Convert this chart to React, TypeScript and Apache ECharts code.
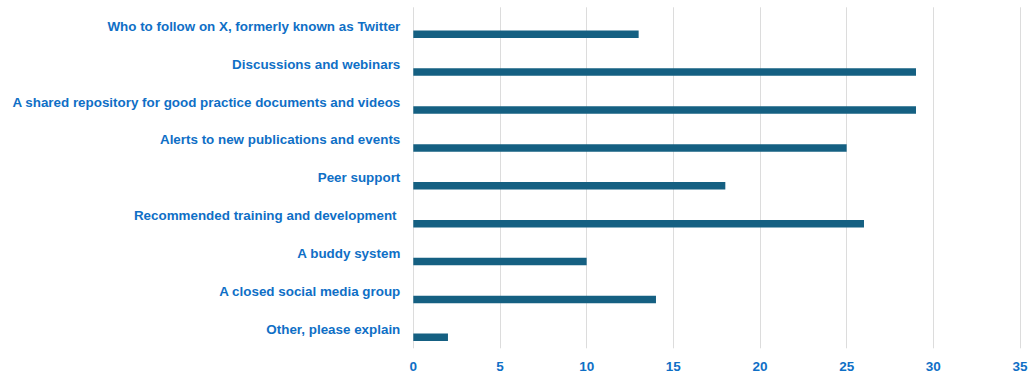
import React, { useEffect, useRef } from "react";
import * as echarts from "echarts";

const categories: string[] = [
  "Who to follow on X, formerly known as Twitter",
  "Discussions and webinars",
  "A shared repository for good practice documents and videos",
  "Alerts to new publications and events",
  "Peer support",
  "Recommended training and development ",
  "A buddy system",
  "A closed social media group",
  "Other, please explain",
];
const values: number[] = [13, 29, 29, 25, 18, 26, 10, 14, 2];
const emptyValues: (number | null)[] = categories.map(() => null);

const TEXT_COLOR = "#0F6FC6";
const BAR_COLOR = "#156082";
const FONT = "'Liberation Sans', Arial, sans-serif";

export default function App() {
  const ref = useRef<HTMLDivElement>(null);
  useEffect(() => {
    if (!ref.current) return;
    const chart = echarts.init(ref.current, undefined, { renderer: "svg" });
    chart.setOption({
      animation: false,
      backgroundColor: "#ffffff",
      grid: { left: 413.3, right: 11, top: 7.3, bottom: 27.7, containLabel: false },
      xAxis: {
        type: "value",
        min: 0,
        max: 35,
        interval: 5,
        axisLine: { show: false },
        axisTick: { show: false },
        splitLine: { show: true, lineStyle: { color: "#dcdcdc", width: 1 } },
        axisLabel: {
          color: TEXT_COLOR,
          fontFamily: FONT,
          fontWeight: "bold",
          fontSize: 13.5,
          margin: 11,
        },
      },
      yAxis: {
        type: "category",
        inverse: true,
        data: categories,
        axisLine: { show: false },
        axisTick: { show: false },
        axisLabel: {
          color: TEXT_COLOR,
          fontFamily: FONT,
          fontWeight: "bold",
          fontSize: 13.4,
          margin: 13,
        },
      },
      series: [
        {
          type: "bar",
          data: emptyValues,
          barWidth: 7.5,
          barGap: "113%",
          itemStyle: { color: BAR_COLOR },
        },
        {
          type: "bar",
          data: values,
          barWidth: 7.5,
          barGap: "113%",
          itemStyle: { color: BAR_COLOR },
        },
      ],
    });
    return () => chart.dispose();
  }, []);
  return (
    <div
      ref={ref}
      style={{ position: "absolute", left: 0, top: 0, width: 1031, height: 376 }}
    />
  );
}
